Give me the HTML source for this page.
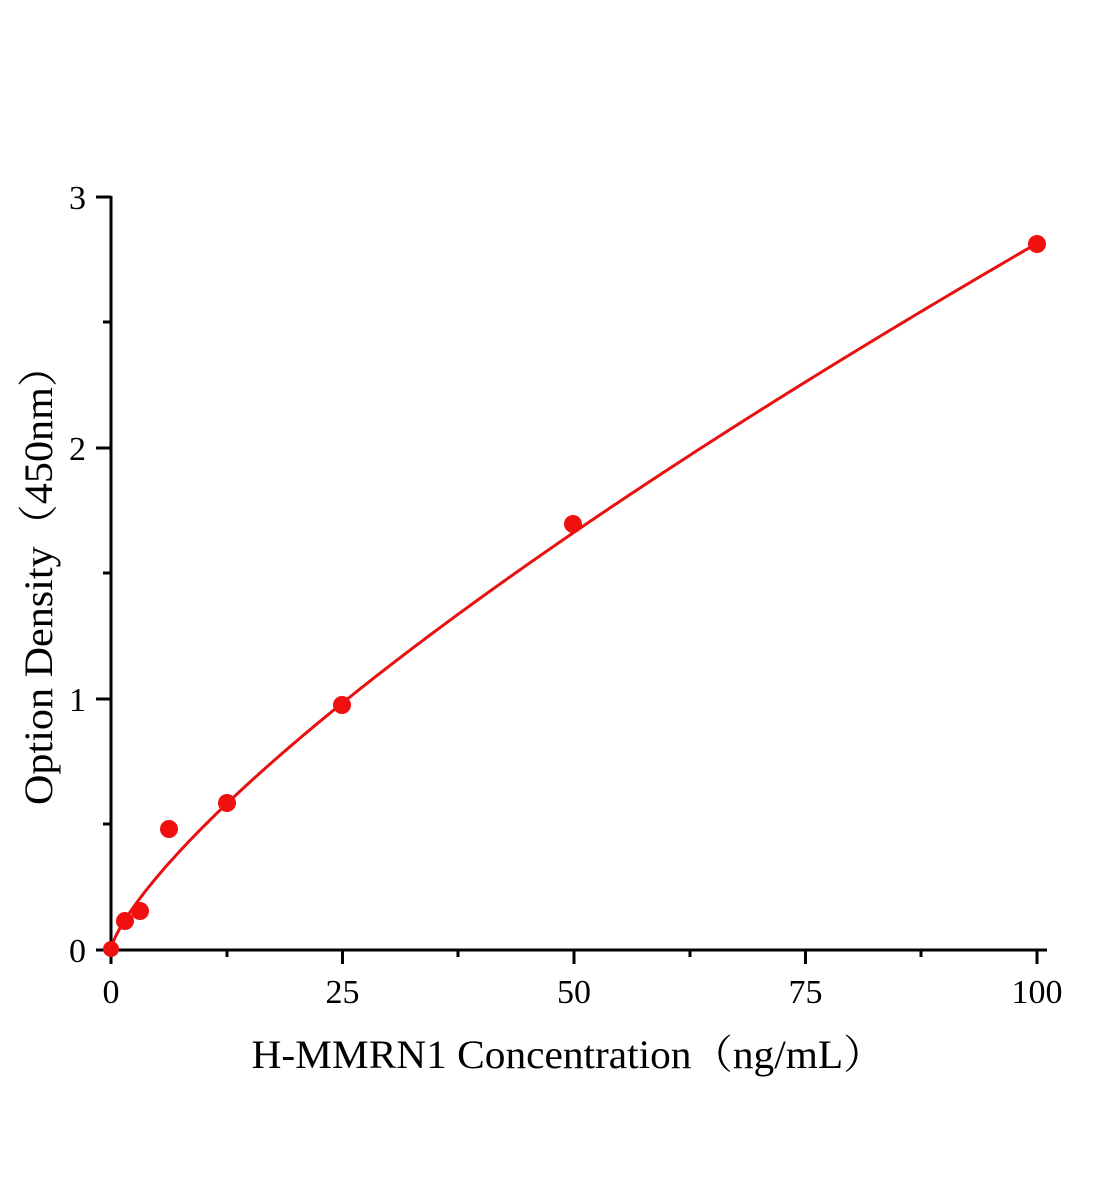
<!DOCTYPE html>
<html><head><meta charset="utf-8"><style>
html,body{margin:0;padding:0;background:#fff;}
svg{display:block;font-family:"Liberation Serif","Noto Serif CJK SC",serif;}
</style></head><body>
<svg id="s" width="1104" height="1200" viewBox="0 0 1104 1200" xmlns="http://www.w3.org/2000/svg">
<g stroke="#000" stroke-width="3" fill="none">
<line x1="111" y1="196" x2="111" y2="951"/>
<line x1="96" y1="950" x2="1047" y2="950"/>
<line x1="96" y1="197" x2="111" y2="197"/>
<line x1="96" y1="448" x2="111" y2="448"/>
<line x1="96" y1="699" x2="111" y2="699"/>
<line x1="103" y1="322" x2="111" y2="322"/>
<line x1="103" y1="573" x2="111" y2="573"/>
<line x1="103" y1="824" x2="111" y2="824"/>
<line x1="111" y1="950" x2="111" y2="964"/>
<line x1="342.5" y1="950" x2="342.5" y2="964"/>
<line x1="574" y1="950" x2="574" y2="964"/>
<line x1="805.5" y1="950" x2="805.5" y2="964"/>
<line x1="1037" y1="950" x2="1037" y2="964"/>
<line x1="227" y1="950" x2="227" y2="957"/>
<line x1="458" y1="950" x2="458" y2="957"/>
<line x1="690" y1="950" x2="690" y2="957"/>
<line x1="921" y1="950" x2="921" y2="957"/>
</g>
<g style="font-size:34px" fill="#000" text-anchor="end">
<text x="86" y="209">3</text>
<text x="86" y="460">2</text>
<text x="86" y="711">1</text>
<text x="86" y="962">0</text>
</g>
<g style="font-size:34px" fill="#000" text-anchor="middle">
<text x="111" y="1003">0</text>
<text x="342.5" y="1003">25</text>
<text x="574" y="1003">50</text>
<text x="805.5" y="1003">75</text>
<text x="1037" y="1003">100</text>
</g>
<text x="568" y="1068" style="font-size:40px" text-anchor="middle" textLength="633" lengthAdjust="spacingAndGlyphs">H-MMRN1 Concentration（ng/mL）</text>
<text transform="translate(52,575) rotate(-90)" style="font-size:40px" text-anchor="middle" textLength="460" lengthAdjust="spacingAndGlyphs">Option Density（450nm）</text>
<path id="curve" fill="none" stroke="#e81010" stroke-width="3"/>
<g fill="#f01010">
<circle cx="111" cy="949" r="8"/>
<circle cx="125" cy="921" r="9"/>
<circle cx="140" cy="911" r="9"/>
<circle cx="169" cy="829" r="9"/>
<circle cx="227" cy="803" r="9"/>
<circle cx="342" cy="705" r="9"/>
<circle cx="573" cy="524" r="9"/>
<circle cx="1037" cy="244" r="9"/>
</g>
</svg>
<script>
var d="";for(var i=0;i<=400;i++){var x=100*Math.pow(i/400,1.6);var y=0.085*Math.pow(x,0.76);var px=111+x*9.26,py=949-y*250.7;d+=(i?"L":"M")+px.toFixed(2)+" "+py.toFixed(2);}
document.getElementById("curve").setAttribute("d",d);
</script>
</body></html>
